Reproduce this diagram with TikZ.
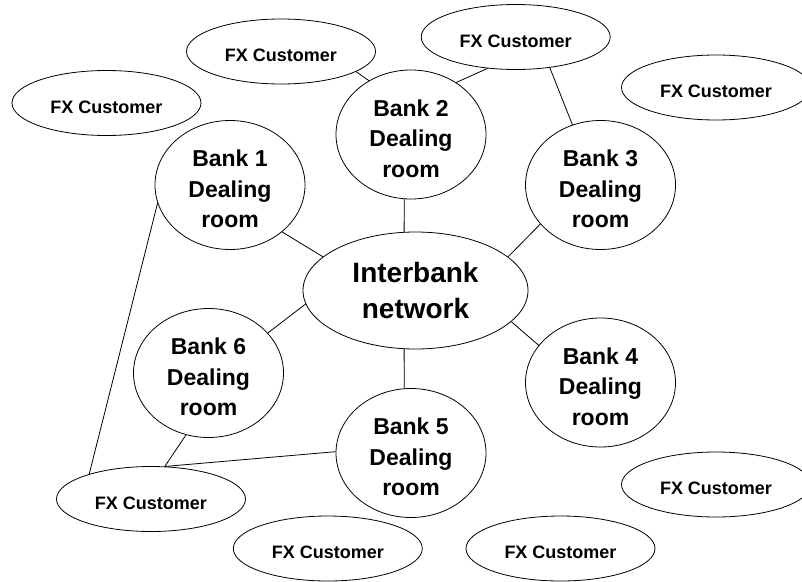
\documentclass[tikz,border=0pt]{standalone}
\usepackage{fontspec}
\setmainfont{Liberation Sans}
\usetikzlibrary{shapes.geometric}

% three-line label of a dealing room
\newcommand{\dealingroom}[1]{\rule{0pt}{24.5pt}Bank #1\\Dealing\\room}

\begin{document}
\begin{tikzpicture}[x=1pt,y=-1pt,line width=0.8pt,
		customer/.style={draw,ellipse,inner sep=0pt,minimum width=189pt,minimum height=65pt,text height=20pt,text depth=0pt,font=\fontsize{18}{22}\selectfont\bfseries},
		room/.style={draw,ellipse,inner sep=0pt,minimum width=150pt,minimum height=129pt,align=center,font=\fontsize{23}{30.5}\selectfont\bfseries},
		hub/.style={draw,ellipse,inner sep=0pt,minimum width=225pt,minimum height=117pt,align=center,font=\fontsize{28}{36}\selectfont\bfseries}]
			\useasboundingbox (0,0) rectangle (802,581);
			% the network in the middle
			\node [hub] (ib) at (415.5,290.5) {Interbank\\network};
			% dealing rooms
			\node [room] (b1) at (230,185) {\dealingroom{1}};
			\node [room] (b2) at (411,134.5) {\dealingroom{2}};
			\node [room] (b3) at (600.5,185) {\dealingroom{3}};
			\node [room] (b4) at (600.5,382.5) {\dealingroom{4}};
			\node [room] (b5) at (411,453) {\dealingroom{5}};
			\node [room] (b6) at (208.5,373) {\dealingroom{6}};
			% customers
			\node [customer] (fxA) at (106.5,103) {FX Customer};
			\node [customer] (fxB) at (281,51.5) {FX Customer};
			\node [customer] (fxC) at (515.7,37) {FX Customer};
			\node [customer] (fxD) at (716,87.5) {FX Customer};
			\node [customer] (fxE) at (151,499) {FX Customer};
			\node [customer] (fxF) at (716,484.5) {FX Customer};
			\node [customer] (fxG) at (327.8,548.5) {FX Customer};
			\node [customer] (fxH) at (560.5,548.5) {FX Customer};
			% links
			\draw (b1.-42.5) -- (ib.160.2);
			\draw (b2.264) -- (ib.101);
			\draw (b3.213.5) -- (ib.20.7);
			\draw (ib.-18.8) -- (b4.149.7);
			\draw (ib.259) -- (b5.96);
			\draw (b6.34) -- (ib.187.6);
			\draw (fxB.-15.7) -- (b2.128.8);
			\draw (fxC.228) -- (b2.49);
			\draw (fxC.-42.3) -- (b3.115.2);
			\draw (b1.194.1) -- (fxE.158.2);
			\draw (b6.250.6) -- (fxE.67);
			\draw (fxE.67) -- (b5.179);
		\end{tikzpicture}
\end{document}
